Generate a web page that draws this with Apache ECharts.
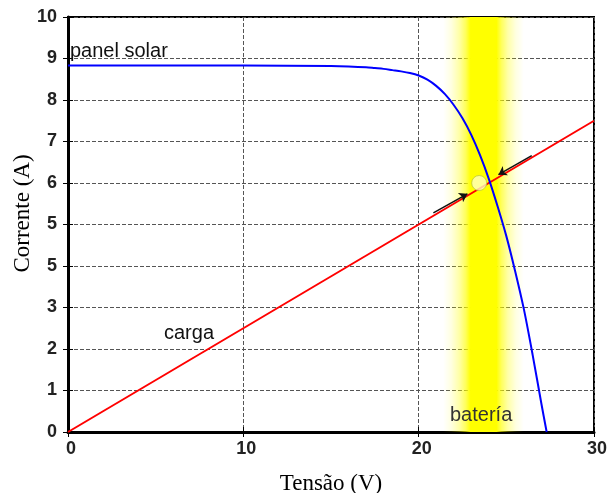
<!DOCTYPE html>
<html>
<head>
<meta charset="utf-8">
<script src="https://cdn.jsdelivr.net/npm/echarts@6/dist/echarts.min.js"></script>
<style>
html,body{margin:0;padding:0;background:#fff;}
#c{width:607px;height:493px;}
</style>
</head>
<body>
<div id="c"></div>
<script>
// ---- data ----
const panelV = [0, 5, 10, 15, 16, 17, 17.5, 18, 18.5, 19, 19.5, 20, 20.5, 21, 21.5, 22, 22.5, 23, 23.5, 24, 24.5, 25, 25.5, 26, 26.5, 27, 27.3];
const panelI = [8.83, 8.83, 8.83, 8.82, 8.81, 8.79, 8.77, 8.75, 8.72, 8.69, 8.65, 8.59, 8.49, 8.34, 8.14, 7.88, 7.56, 7.16, 6.67, 6.1, 5.44, 4.72, 3.88, 2.96, 1.86, 0.68, 0];
const loadV = [0, 30];
const loadI = [0, 7.5];
const operatingPoint = [23.45, 6.0];
const arrowFrom = [[20.84, 5.28], [26.45, 6.66]];
const arrowTo = [[22.78, 5.74], [24.55, 6.2]];
const batteryBand = [21.4, 26.0];
const yTickLabels = ['0', '1', '2', '3', '5', '5', '6', '7', '8', '9', '10'];
const xTickLabels = ['0', '10', '20', '30'];

const chart = echarts.init(document.getElementById('c'), null, {renderer: 'canvas'});

const zip = (a, b) => a.map((v, i) => [v, b[i]]);

const tickFont = {fontFamily: 'Liberation Sans, Arial, sans-serif', fontSize: 18, fontWeight: 'bold', color: '#222'};
const splitDash = {show: true, lineStyle: {color: '#555', width: 1, type: [4, 2]}};

const option = {
  animation: false,
  backgroundColor: '#fff',
  grid: {left: 68, right: 13, top: 17, bottom: 61, outerBoundsMode: 'none', containLabel: false,
    show: true, borderColor: '#000', borderWidth: 2, backgroundColor: 'transparent'},
  xAxis: [{
    type: 'value', min: 0, max: 30, interval: 10,
    name: 'Tensão (V)', nameLocation: 'middle', nameGap: 40, nameMoveOverlap: false,
    nameTextStyle: {fontFamily: 'Liberation Serif, Times New Roman, serif', fontSize: 23, color: '#000'},
    axisLine: {show: true, lineStyle: {color: '#000', width: 3}},
    axisTick: {show: true, inside: true, length: 5, lineStyle: {color: '#000', width: 1}},
    axisLabel: Object.assign({margin: 8, padding: [0, 0, 0, 6], formatter: v => xTickLabels[Math.round(v / 10)]}, tickFont),
    splitLine: splitDash
  }, {
    type: 'value', min: 0, max: 30, interval: 10, position: 'top',
    axisLine: {show: false}, axisLabel: {show: false}, splitLine: {show: false},
    axisTick: {show: true, inside: true, length: 5, lineStyle: {color: '#000', width: 1}}
  }],
  yAxis: [{
    type: 'value', min: 0, max: 10, interval: 1,
    name: 'Corrente (A)', nameLocation: 'middle', nameGap: 34, nameMoveOverlap: false,
    nameTextStyle: {fontFamily: 'Liberation Serif, Times New Roman, serif', fontSize: 23, color: '#000', padding: [0, 0, 0, 22]},
    axisLine: {show: true, lineStyle: {color: '#000', width: 3}},
    axisTick: {show: true, inside: true, length: 5, lineStyle: {color: '#000', width: 1}},
    axisLabel: Object.assign({margin: 11, padding: [10, 0, 0, 0], formatter: v => yTickLabels[Math.round(v)]}, tickFont),
    splitLine: splitDash
  }, {
    type: 'value', min: 0, max: 10, interval: 1, position: 'right',
    axisLine: {show: false}, axisLabel: {show: false}, splitLine: {show: false},
    axisTick: {show: true, inside: true, length: 5, lineStyle: {color: '#000', width: 1}}
  }],
  series: [
    {
      name: 'batería', type: 'line', data: [], z: -1, silent: true,
      markArea: {
        silent: true,
        itemStyle: {
          color: new echarts.graphic.LinearGradient(0, 0, 1, 0, [
            {offset: 0, color: 'rgba(255,255,0,0)'},
            {offset: 0.1, color: 'rgba(255,255,0,0.12)'},
            {offset: 0.2, color: 'rgba(255,255,0,0.35)'},
            {offset: 0.28, color: 'rgba(255,255,0,0.65)'},
            {offset: 0.34, color: 'rgba(255,255,0,1)'},
            {offset: 0.66, color: 'rgba(255,255,0,1)'},
            {offset: 0.72, color: 'rgba(255,255,0,0.65)'},
            {offset: 0.8, color: 'rgba(255,255,0,0.35)'},
            {offset: 0.9, color: 'rgba(255,255,0,0.12)'},
            {offset: 1, color: 'rgba(255,255,0,0)'}
          ])
        },
        data: [[{xAxis: batteryBand[0], yAxis: 0}, {xAxis: batteryBand[1], yAxis: 10}]]
      }
    },
    {
      name: 'carga', type: 'line', data: zip(loadV, loadI), showSymbol: false, symbol: 'none',
      lineStyle: {color: '#ff0000', width: 2}, z: 3
    },
    {
      name: 'panel solar', type: 'line', data: zip(panelV, panelI), showSymbol: false, symbol: 'none',
      smooth: 0.3,
      lineStyle: {color: '#0000ff', width: 2}, z: 4
    },
    {
      name: 'arrows', type: 'lines', coordinateSystem: 'cartesian2d',
      data: arrowFrom.map((p, i) => ({coords: [p, arrowTo[i]]})),
      symbol: ['none', 'arrow'], symbolSize: 8,
      lineStyle: {color: '#111', width: 1.5, opacity: 1}, z: 5
    },
    {
      name: 'ponto', type: 'scatter', data: [operatingPoint], symbolSize: 15,
      itemStyle: {color: '#ffffc0', borderColor: '#bcc83c', borderWidth: 1}, z: 6
    }
  ],
  graphic: [
    {type: 'text', left: 70, top: 41, z: 10, style: {text: 'panel solar', font: '20px "Liberation Sans", Arial, sans-serif', fill: '#111'}},
    {type: 'text', left: 164, top: 323, z: 10, style: {text: 'carga', font: '20px "Liberation Sans", Arial, sans-serif', fill: '#111'}},
    {type: 'text', left: 450, top: 405, z: 10, style: {text: 'batería', font: '20px "Liberation Sans", Arial, sans-serif', fill: '#333'}}
  ]
};
chart.setOption(option);
</script>
</body>
</html>
